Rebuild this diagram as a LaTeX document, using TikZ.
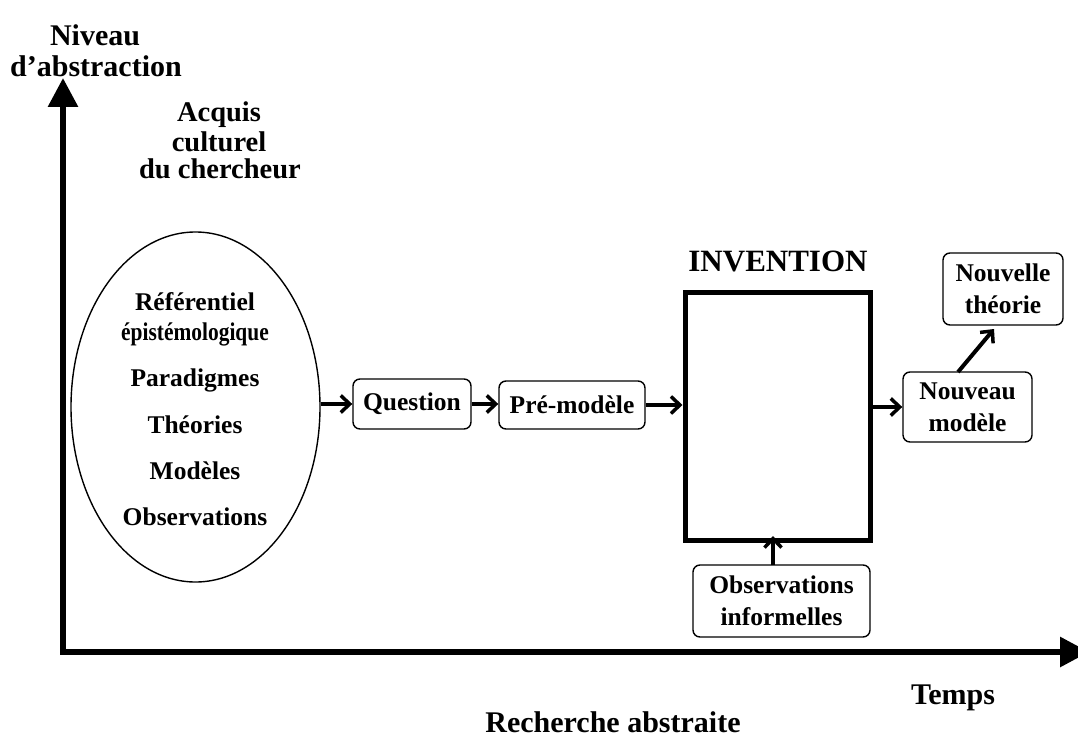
\documentclass[tikz,border=0pt]{standalone}
\usepackage{fontspec}
\setmainfont{Liberation Serif}
\usetikzlibrary{arrows.meta,shapes.geometric}
\begin{document}
\begin{tikzpicture}[x=1pt,y=-1pt,
  txt/.style={font=\bfseries\fontsize{25.5}{32}\selectfont, inner sep=0pt, align=center},
  bigtxt/.style={font=\bfseries\fontsize{30}{26}\selectfont, inner sep=0pt, align=center},
  rbox/.style={draw, line width=1.4pt, rounded corners=7pt, inner sep=0pt},
  conn/.style={line width=4pt, -{Straight Barb[length=9pt,width=17pt,line width=3.5pt]}},
  axis/.style={line width=6pt, line join=miter, {Triangle[length=29pt,width=29pt]}-{Triangle[length=29pt,width=29pt]}}
]
\useasboundingbox (0,0) rectangle (1078,738);
% axes
\coordinate (ytip) at (63,78);
\coordinate (orig) at (63,652);
\coordinate (xtip) at (1089,652);
\draw[axis] (ytip) -- (orig) -- (xtip);
% axis labels
\node[bigtxt] (niv1) at (95,35) {Niveau};
\node[bigtxt] (niv2) at (96,66) {d’abstraction};
\node[bigtxt] (temps) at (953,698) {Temps};
\node[bigtxt] (rech) at (613,722) {Recherche abstraite};
\node[bigtxt, font=\bfseries\fontsize{28.5}{26}\selectfont] (acq1) at (219,115) {Acquis};
\node[bigtxt, font=\bfseries\fontsize{28.5}{26}\selectfont] (acq2) at (219,142) {culturel};
\node[bigtxt, font=\bfseries\fontsize{28.5}{26}\selectfont] (acq3) at (220,169) {du chercheur};
% ellipse
\node[draw, ellipse, line width=1.4pt, minimum width=249pt, minimum height=350pt, inner sep=0pt] (ell) at (195.5,407) {};
\node[txt] (e1) at (195,302) {Référentiel};
\node[txt] (e2) at (195,334) {\scalebox{0.84}[1]{épistémologique}};
\node[txt] (e3) at (195,380) {Paradigmes};
\node[txt] (e4) at (195,425) {Théories};
\node[txt] (e5) at (195,471) {Modèles};
\node[txt] (e6) at (195,517) {Observations};
% boxes
\node[rbox, txt, minimum width=118pt, minimum height=50pt] (q) at (412,404) {Question};
\node[rbox, txt, minimum width=146pt, minimum height=48pt] (pm) at (572,405) {Pré-modèle};
\node[draw, line width=5pt, minimum width=185pt, minimum height=248pt, inner sep=0pt] (inv) at (777.5,416) {};
\node[bigtxt, font=\bfseries\fontsize{31}{31}\selectfont] (invt) at (778,261) {INVENTION};
\node[rbox, txt, minimum width=129pt, minimum height=70pt] (nm) at (967.5,407) {Nouveau\\modèle};
\node[rbox, txt, minimum width=120pt, minimum height=72pt] (nt) at (1003,289) {Nouvelle\\théorie};
\node[rbox, txt, minimum width=177pt, minimum height=72pt] (oi) at (781.5,601) {Observations\\informelles};
% connectors
\draw[conn] (ell.east |- q.west) -- (q.west);
\draw[conn] (q.east) -- (pm.west |- q.east);
\draw[conn] (pm.east) -- (inv.west |- pm.east);
\draw[conn] (inv.east |- nm.west) -- (nm.west);
\coordinate (nmtop) at (958,372);
\coordinate (nttip) at (994,329);
\draw[conn] (nmtop) -- (nttip);
\coordinate (oitop) at (773,565);
\coordinate (invbot) at (773,536);
\draw[conn] (oitop) -- (invbot);
\end{tikzpicture}
\end{document}
